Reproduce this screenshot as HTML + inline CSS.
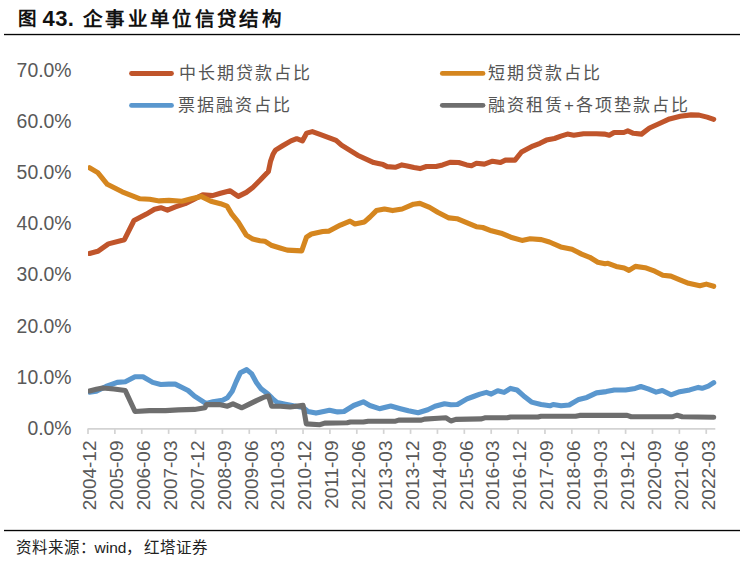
<!DOCTYPE html>
<html lang="zh-CN"><head><meta charset="utf-8"><style>
html,body{margin:0;padding:0;background:#fff;width:745px;height:564px;overflow:hidden}
svg{position:absolute;left:0;top:0}
.t{font-family:"Liberation Sans",sans-serif}
</style></head><body>
<svg width="745" height="564" viewBox="0 0 745 564">
<rect width="745" height="564" fill="#fff"/>
<text class="t" x="17.8" y="25.3" font-size="18.5" font-weight="bold" fill="#111">图</text><text class="t" x="42.6" y="25.6" font-size="22" font-weight="bold" fill="#111" letter-spacing="0.3">43.</text>
<text class="t" x="83" y="25.6" font-size="19.5" font-weight="bold" fill="#111" letter-spacing="2.35">企事业单位信贷结构</text>
<rect x="4" y="33.85" width="736" height="1.35" fill="#050505"/>
<g class="t" font-size="19.4" fill="#595959"><text x="71.6" y="76.60" text-anchor="end">70.0%</text><text x="71.6" y="127.79" text-anchor="end">60.0%</text><text x="71.6" y="178.97" text-anchor="end">50.0%</text><text x="71.6" y="230.16" text-anchor="end">40.0%</text><text x="71.6" y="281.34" text-anchor="end">30.0%</text><text x="71.6" y="332.53" text-anchor="end">20.0%</text><text x="71.6" y="383.71" text-anchor="end">10.0%</text><text x="71.6" y="434.90" text-anchor="end">0.0%</text></g>
<g stroke="#d3d3d3" stroke-width="1.7">
<line x1="87.5" y1="428.9" x2="715.3" y2="428.9"/><line x1="88.00" y1="428.9" x2="88.00" y2="433.9"/><line x1="114.88" y1="428.9" x2="114.88" y2="433.9"/><line x1="141.76" y1="428.9" x2="141.76" y2="433.9"/><line x1="168.64" y1="428.9" x2="168.64" y2="433.9"/><line x1="195.52" y1="428.9" x2="195.52" y2="433.9"/><line x1="222.40" y1="428.9" x2="222.40" y2="433.9"/><line x1="249.28" y1="428.9" x2="249.28" y2="433.9"/><line x1="276.16" y1="428.9" x2="276.16" y2="433.9"/><line x1="303.04" y1="428.9" x2="303.04" y2="433.9"/><line x1="329.92" y1="428.9" x2="329.92" y2="433.9"/><line x1="356.80" y1="428.9" x2="356.80" y2="433.9"/><line x1="383.68" y1="428.9" x2="383.68" y2="433.9"/><line x1="410.56" y1="428.9" x2="410.56" y2="433.9"/><line x1="437.44" y1="428.9" x2="437.44" y2="433.9"/><line x1="464.32" y1="428.9" x2="464.32" y2="433.9"/><line x1="491.20" y1="428.9" x2="491.20" y2="433.9"/><line x1="518.08" y1="428.9" x2="518.08" y2="433.9"/><line x1="544.96" y1="428.9" x2="544.96" y2="433.9"/><line x1="571.84" y1="428.9" x2="571.84" y2="433.9"/><line x1="598.72" y1="428.9" x2="598.72" y2="433.9"/><line x1="625.60" y1="428.9" x2="625.60" y2="433.9"/><line x1="652.48" y1="428.9" x2="652.48" y2="433.9"/><line x1="679.36" y1="428.9" x2="679.36" y2="433.9"/><line x1="706.24" y1="428.9" x2="706.24" y2="433.9"/></g>
<g class="t" font-size="19" fill="#595959"><text transform="translate(96.29,440.5) rotate(-90)" text-anchor="end">2004-12</text><text transform="translate(123.17,440.5) rotate(-90)" text-anchor="end">2005-09</text><text transform="translate(150.05,440.5) rotate(-90)" text-anchor="end">2006-06</text><text transform="translate(176.93,440.5) rotate(-90)" text-anchor="end">2007-03</text><text transform="translate(203.81,440.5) rotate(-90)" text-anchor="end">2007-12</text><text transform="translate(230.69,440.5) rotate(-90)" text-anchor="end">2008-09</text><text transform="translate(257.57,440.5) rotate(-90)" text-anchor="end">2009-06</text><text transform="translate(284.45,440.5) rotate(-90)" text-anchor="end">2010-03</text><text transform="translate(311.33,440.5) rotate(-90)" text-anchor="end">2010-12</text><text transform="translate(338.21,440.5) rotate(-90)" text-anchor="end">2011-09</text><text transform="translate(365.09,440.5) rotate(-90)" text-anchor="end">2012-06</text><text transform="translate(391.97,440.5) rotate(-90)" text-anchor="end">2013-03</text><text transform="translate(418.85,440.5) rotate(-90)" text-anchor="end">2013-12</text><text transform="translate(445.73,440.5) rotate(-90)" text-anchor="end">2014-09</text><text transform="translate(472.61,440.5) rotate(-90)" text-anchor="end">2015-06</text><text transform="translate(499.49,440.5) rotate(-90)" text-anchor="end">2016-03</text><text transform="translate(526.37,440.5) rotate(-90)" text-anchor="end">2016-12</text><text transform="translate(553.25,440.5) rotate(-90)" text-anchor="end">2017-09</text><text transform="translate(580.13,440.5) rotate(-90)" text-anchor="end">2018-06</text><text transform="translate(607.01,440.5) rotate(-90)" text-anchor="end">2019-03</text><text transform="translate(633.89,440.5) rotate(-90)" text-anchor="end">2019-12</text><text transform="translate(660.77,440.5) rotate(-90)" text-anchor="end">2020-09</text><text transform="translate(687.65,440.5) rotate(-90)" text-anchor="end">2021-06</text><text transform="translate(714.53,440.5) rotate(-90)" text-anchor="end">2022-03</text></g>
<defs><clipPath id="pa"><rect x="88" y="40" width="650" height="400"/></clipPath></defs>
<g fill="none" stroke-width="5.1" stroke-linejoin="round" stroke-linecap="round" clip-path="url(#pa)" transform="translate(0,0.3)">
<polyline stroke="#C0552B" points="89.5,253.2 97.8,251.0 108.4,243.6 124.4,239.4 134.0,220.2 146.4,213.8 154.5,209.0 160.9,207.4 167.4,209.8 175.4,206.6 185.1,203.4 193.2,199.3 202.8,194.5 212.5,195.3 220.5,192.9 230.2,190.5 238.3,196.1 246.3,192.1 252.8,187.2 260.0,180.0 268.4,171.1 270.5,161.1 273.0,154.0 275.5,149.8 282.6,145.5 291.0,140.6 296.7,138.4 302.4,140.6 306.7,132.8 312.3,131.3 320.0,134.1 336.1,140.1 341.5,144.8 357.6,154.9 373.7,162.3 383.1,164.3 387.1,166.3 395.2,167.0 401.9,164.6 407.2,165.6 414.0,167.2 420.0,168.3 426.4,166.2 436.1,166.2 442.6,164.6 450.6,161.9 458.7,162.2 466.7,164.6 471.5,165.4 476.4,163.0 484.4,163.8 492.5,160.9 500.5,162.2 505.4,159.8 515.0,159.8 521.5,151.7 532.8,145.8 540.0,143.0 546.4,139.8 554.5,138.2 560.9,135.8 567.4,133.8 573.8,135.0 583.5,133.4 596.4,133.4 604.4,133.8 609.3,135.0 614.1,132.2 623.8,132.2 627.8,130.6 633.4,133.0 641.5,133.8 649.5,127.7 660.0,122.9 669.5,118.6 680.3,116.0 691.0,114.6 699.1,114.8 707.1,116.8 713.7,119.0"/>
<polyline stroke="#D5861F" points="89.5,167.5 97.8,172.3 107.3,184.0 122.2,191.5 140.0,198.5 149.7,199.0 159.3,200.6 169.0,200.1 181.9,200.9 191.5,198.5 201.2,196.1 210.9,200.9 220.5,203.4 227.0,205.8 231.8,213.8 238.3,221.9 246.3,234.8 252.8,238.8 260.0,240.4 264.7,240.9 271.1,244.9 279.2,247.4 287.2,249.8 301.7,250.6 306.5,236.9 311.4,233.7 322.7,231.2 329.1,230.8 340.4,224.8 350.0,220.8 354.9,223.7 364.5,221.6 370.0,216.7 376.4,210.3 384.5,208.7 392.6,210.3 402.2,208.7 413.5,203.9 419.9,203.1 429.6,207.1 437.7,211.9 448.9,217.6 457.0,218.4 466.6,222.4 476.3,226.4 482.8,227.2 491.4,230.5 501.1,232.9 510.8,236.9 522.0,240.1 530.1,238.5 541.4,239.3 549.4,241.7 560.7,246.6 572.0,249.0 581.6,253.8 589.7,257.0 597.8,261.9 605.0,263.5 608.0,263.0 616.1,266.1 624.2,267.7 629.0,270.1 635.4,266.1 645.1,267.4 654.8,270.9 662.8,275.0 670.9,275.8 680.5,279.8 688.6,283.0 699.9,285.4 706.3,283.8 713.7,286.0"/>
<polyline stroke="#5A97CE" points="89.5,391.4 96.3,390.6 106.0,385.8 117.2,381.7 125.3,381.0 135.0,376.1 143.0,376.1 152.7,381.7 160.7,383.8 168.8,383.4 175.2,383.4 181.6,386.6 188.1,389.8 194.5,395.4 205.0,402.2 206.4,402.7 212.9,401.1 222.6,399.5 227.4,397.0 232.2,390.6 236.2,380.9 240.3,372.1 246.7,368.9 251.5,372.9 256.4,381.7 261.2,388.2 267.7,393.0 272.5,397.9 277.3,401.9 285.4,403.5 293.4,405.1 303.1,406.7 307.9,410.7 316.0,412.4 320.0,411.5 329.5,409.6 337.6,411.2 344.0,410.8 353.7,404.8 363.3,401.1 369.8,404.8 379.4,408.0 390.7,405.3 400.4,408.0 408.4,410.1 418.1,412.1 427.8,409.1 435.0,405.6 444.5,403.0 450.9,404.1 457.4,403.8 467.0,398.2 473.5,395.8 479.9,393.4 486.4,391.7 491.2,393.4 497.7,390.1 504.1,391.7 510.5,387.7 517.0,389.3 523.4,395.0 531.5,401.4 541.1,403.8 550.0,405.1 553.1,403.8 561.1,405.1 569.2,404.3 578.8,398.7 586.9,396.7 596.5,392.2 606.2,390.9 614.3,389.3 625.5,389.3 635.2,387.7 640.8,385.8 648.1,388.2 656.1,391.4 662.3,389.8 671.0,394.1 679.7,391.0 689.7,389.2 698.3,386.7 702.1,387.6 708.3,385.4 713.7,382.0" transform="translate(0,0.4)"/>
<polyline stroke="#6E6E6E" points="89.5,390.6 96.3,389.0 102.7,387.7 114.0,388.7 125.3,390.3 135.0,411.2 149.4,410.3 165.5,410.3 178.4,409.6 194.5,409.1 205.0,407.5 206.4,404.3 219.3,404.3 227.4,405.9 233.0,403.5 241.9,407.5 248.3,404.3 256.4,400.3 264.4,396.7 268.5,395.8 271.7,405.9 280.5,405.9 290.2,406.7 303.1,405.1 306.3,423.6 320.0,424.4 324.7,422.8 347.2,422.5 350.4,421.7 363.3,421.7 368.2,420.9 395.5,420.9 398.8,419.8 421.3,419.8 424.5,418.8 438.1,418.0 446.1,417.5 450.9,420.7 455.8,419.1 481.5,418.6 484.8,417.5 507.3,417.5 510.5,416.7 537.9,416.7 541.1,415.9 575.6,415.9 579.6,415.1 627.2,415.1 631.2,416.4 672.3,416.5 677.2,414.9 682.2,416.5 713.7,416.9"/>
</g>
<g stroke-width="4.8" stroke-linecap="round">
<line x1="131.5" y1="73.5" x2="171.5" y2="73.5" stroke="#C0552B"/>
<line x1="131.5" y1="105.4" x2="171.5" y2="105.4" stroke="#5A97CE"/>
<line x1="442.3" y1="73.4" x2="483" y2="73.4" stroke="#D5861F"/>
<line x1="442.3" y1="105.3" x2="483" y2="105.3" stroke="#6E6E6E"/>
</g>
<g class="t" font-size="17" fill="#555" letter-spacing="2.0">
<text x="178.5" y="79">中长期贷款占比</text>
<text x="178" y="110.8">票据融资占比</text>
<text x="487.5" y="79">短期贷款占比</text>
<text x="488" y="110.8">融资租赁+各项垫款占比</text>
</g>
<rect x="4" y="529.85" width="736" height="1.35" fill="#050505"/>
<text class="t" x="16" y="553" font-size="15.5" fill="#222">资料来源：<tspan dx="-1.4">wind，</tspan><tspan dx="1.2">红塔证券</tspan></text>
</svg>
</body></html>
